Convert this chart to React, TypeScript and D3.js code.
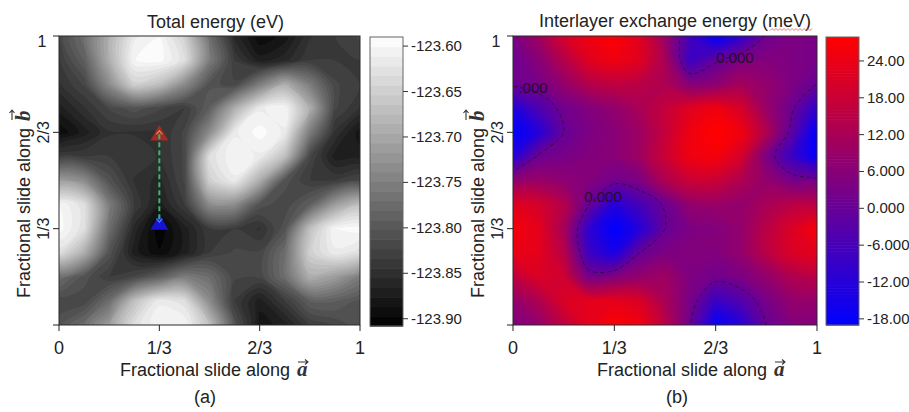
import React from "react";
import * as d3 from "d3";

const FONT = "'Liberation Sans', Arial, Helvetica, sans-serif";
const SERIF = "'Liberation Serif', 'DejaVu Serif', serif";

// grid nodes every 1/12 of a slide, rows listed from b = 1 (top) down to b = 0
// total energy in eV, panel (a)
const energyRows = [
  [-123.821, -123.772, -123.691, -123.614, -123.601, -123.648, -123.772, -123.859, -123.896, -123.883, -123.846, -123.834, -123.821],
  [-123.834, -123.790, -123.691, -123.601, -123.595, -123.629, -123.753, -123.834, -123.871, -123.859, -123.834, -123.834, -123.834],
  [-123.846, -123.821, -123.734, -123.648, -123.669, -123.734, -123.806, -123.821, -123.753, -123.691, -123.753, -123.821, -123.834],
  [-123.871, -123.846, -123.821, -123.806, -123.821, -123.834, -123.790, -123.691, -123.614, -123.601, -123.691, -123.821, -123.846],
  [-123.896, -123.871, -123.846, -123.846, -123.846, -123.821, -123.734, -123.614, -123.595, -123.614, -123.753, -123.846, -123.883],
  [-123.834, -123.834, -123.834, -123.834, -123.846, -123.821, -123.629, -123.601, -123.614, -123.669, -123.821, -123.871, -123.871],
  [-123.713, -123.734, -123.806, -123.846, -123.859, -123.821, -123.648, -123.614, -123.691, -123.806, -123.834, -123.834, -123.821],
  [-123.601, -123.629, -123.753, -123.834, -123.871, -123.834, -123.734, -123.734, -123.806, -123.821, -123.790, -123.713, -123.669],
  [-123.595, -123.629, -123.772, -123.859, -123.905, -123.871, -123.834, -123.834, -123.846, -123.806, -123.669, -123.601, -123.595],
  [-123.629, -123.691, -123.806, -123.871, -123.896, -123.871, -123.834, -123.821, -123.821, -123.772, -123.648, -123.614, -123.629],
  [-123.772, -123.806, -123.834, -123.821, -123.790, -123.753, -123.772, -123.821, -123.821, -123.772, -123.691, -123.713, -123.753],
  [-123.821, -123.821, -123.772, -123.669, -123.614, -123.629, -123.734, -123.834, -123.871, -123.834, -123.790, -123.790, -123.806],
  [-123.806, -123.772, -123.713, -123.629, -123.601, -123.601, -123.669, -123.806, -123.883, -123.871, -123.834, -123.821, -123.806],
];

// interlayer exchange energy in meV, panel (b)
const exchangeRows = [
  [3, 10, 20, 25, 27, 22, 9, -8, -18, -10, 1, 4, 3],
  [1, 6, 14, 22, 25, 22, 12, -8, -1, 4, 5, 4, 3],
  [1, 3, 8, 14, 16, 15, 13, 6, 7, 11, 8, 4, 0],
  [-13, -5, 2, 5, 8, 12, 17, 22, 25, 20, 9, 1, -10],
  [-19, -12, 0, 4, 6, 10, 17, 25, 28, 25, 13, -2, -19],
  [-12, 1, 3, 5, 6, 10, 18, 25, 26, 20, 4, -8, -18],
  [7, 9, 7, 5, 2, 4, 13, 18, 18, 13, 8, 3, 2],
  [22, 20, 14, 0, -12, -6, 1, 8, 9, 8, 12, 15, 15],
  [26, 23, 12, -10, -19, -12, 0, 4, 5, 8, 15, 21, 26],
  [24, 23, 15, -8, -14, 0, 4, 5, 5, 8, 15, 21, 23],
  [16, 21, 19, 3, 5, 8, 10, 4, 2, 4, 8, 13, 15],
  [8, 13, 21, 23, 23, 21, 12, 3, -8, -4, 3, 8, 8],
  [4, 8, 16, 23, 27, 25, 15, 0, -18, -12, 0, 5, 5],
];

const slideTicks = [0, 1 / 3, 2 / 3, 1];
const slideTickLabels = ["0", "1/3", "2/3", "1"];

const energyTicks = [-123.6, -123.65, -123.7, -123.75, -123.8, -123.85, -123.9];
const energyRange = [-123.908, -123.59];

const exchangeTicks = [24, 18, 12, 6, 0, -6, -12, -18];
const exchangeTickLabels = ["24.00", "18.00", "12.00", "6.000", "0.000", "-6.000", "-12.00", "-18.00"];
const exchangeRange = [-19, 27.9];

// sliding path drawn in panel (a): from (1/3, 2/3) to (1/3, 1/3)
const slidePathA = [1 / 3, 1 / 3];
const slidePathB = [2 / 3, 1 / 3];

// labels of the zero contour in panel (b)
const zeroLabels = [
  { a: 0.73, b: 0.924, text: "0.000" },
  { a: 0.296, b: 0.443, text: "0.000" },
  { a: 0.066, b: 0.82, text: ".000" },
];

// contour polygons (grid coords) -> smoothed svg path in pixels
function contourPath(rows, left, top, width, height) {
  const nx = rows[0].length, ny = rows.length;
  const gx = d3.scaleLinear().domain([0.5, nx - 0.5]).range([left, left + width]);
  const gy = d3.scaleLinear().domain([0.5, ny - 0.5]).range([top, top + height]);
  const ring = d3.line().x(p => gx(p[0])).y(p => gy(p[1])).curve(d3.curveCatmullRomClosed.alpha(0.5));
  return mp => mp.coordinates.map(poly => poly.map(r => ring(r.slice(0, -1))).join("")).join("");
}

function Frame({ x0, x1, y0, y1, letter }) {
  const xs = d3.scaleLinear().domain([0, 1]).range([x0, x1]);
  const ys = d3.scaleLinear().domain([0, 1]).range([y1, y0]);
  return (
    <g fontFamily={FONT} fill="#222">
      <rect x={x0} y={y0} width={x1 - x0} height={y1 - y0} fill="none" stroke="#2a2a2a" strokeWidth={1} />
      {slideTicks.map((t, i) => (
        <g key={"x" + i}>
          <line x1={xs(t)} x2={xs(t)} y1={y1} y2={y1 + 6} stroke="#222" />
          <text x={xs(t)} y={y1 + 29} fontSize={18} textAnchor="middle">{slideTickLabels[i]}</text>
        </g>
      ))}
      {slideTicks.map((t, i) => (
        <line key={"y" + i} x1={x0 - 6} x2={x0} y1={ys(t)} y2={ys(t)} stroke="#222" />
      ))}
      {slideTicks.map((t, i) => {
        if (i === 0) return null;
        if (i === 3) return <text key={"yl" + i} x={x0 - 17} y={ys(t) + 11} fontSize={16} textAnchor="middle">{slideTickLabels[i]}</text>;
        return (
          <text key={"yl" + i} transform={`translate(${x0 - 10},${ys(t)}) rotate(-90)`} fontSize={16} textAnchor="middle">
            {slideTickLabels[i]}
          </text>
        );
      })}
      <SlideTitle x={x0 + (letter === "a" ? 61 : 84)} y={y1 + 51} rotate={0} letter="a" />
      <SlideTitle x={x0 - 29} y={y1 - 27} rotate={-90} letter="b" />
    </g>
  );
}

function SlideTitle({ x, y, rotate, letter }) {
  const ay = letter === "b" ? -18 : -14;
  return (
    <g transform={`translate(${x},${y}) rotate(${rotate})`}>
      <text x={0} y={0} fontFamily={FONT} fontSize={18} fill="#222">Fractional slide along</text>
      <text x={177} y={0} fontFamily={SERIF} fontSize={21} fontWeight="bold" fontStyle="italic" fill="#333">{letter}</text>
      <path d={`M${178},${ay} h10 M${185},${ay - 2.5} l3,2.5 l-3,2.5`} fill="none" stroke="#333" strokeWidth={1.1} />
    </g>
  );
}

function ColorBar({ x, width, top, bottom, scale, thresholds, step, fill, ticks, labels }) {
  return (
    <g fontFamily={FONT}>
      {thresholds.map((t, i) => {
        const ya = Math.max(top, scale(t + step));
        const yb = Math.min(bottom, scale(t));
        return <rect key={i} x={x} y={ya} width={width} height={Math.max(0, yb - ya) + 0.6} fill={fill(t)} />;
      })}
      <rect x={x} y={top} width={width} height={bottom - top} fill="none" stroke="#666" strokeWidth={1} />
      {ticks.map((t, i) => (
        <g key={i}>
          <line x1={x + width} x2={x + width + 5} y1={scale(t)} y2={scale(t)} stroke="#333" />
          <text x={x + width + 8} y={scale(t) + 5} fontSize={15} fill="#222">{labels[i]}</text>
        </g>
      ))}
    </g>
  );
}

export default function App() {
  const W = 909, H = 412;
  const A = { x0: 59, x1: 360, y0: 36, y1: 325, cbX: 370, cbW: 33, cbTop: 37, cbBottom: 326 };
  const B = { x0: 513, x1: 817, y0: 36, y1: 325, cbX: 826, cbW: 33, cbTop: 37, cbBottom: 325 };

  // panel (a): banded gray contours
  const eStep = (energyRange[1] - energyRange[0]) / 30;
  const eThresholds = d3.range(30).map(i => energyRange[0] + i * eStep);
  const gray = d3.scaleLinear().domain(energyRange).range(["#000000", "#ffffff"]).clamp(true);
  const eFill = t => gray(t + eStep / 2);
  const ePath = contourPath(energyRows, A.x0, A.y0, A.x1 - A.x0, A.y1 - A.y0);
  const eBands = d3.contours().size([13, 13]).thresholds(eThresholds)(energyRows.flat());
  const eBar = d3.scaleLinear().domain(energyRange).range([A.cbBottom, A.cbTop]);

  // panel (b): smooth blue-red contours
  const xStep = 0.5;
  const xThresholds = d3.range(exchangeRange[0], exchangeRange[1], xStep);
  const blueRed = d3.scaleLinear().domain(exchangeRange).range(["#0000ff", "#ff0000"]).clamp(true);
  const xFill = t => blueRed(t + xStep / 2);
  const xPath = contourPath(exchangeRows, B.x0, B.y0, B.x1 - B.x0, B.y1 - B.y0);
  const xBands = d3.contours().size([13, 13]).thresholds(xThresholds)(exchangeRows.flat());
  const zeroLine = d3.contours().size([13, 13]).thresholds([0])(exchangeRows.flat());
  const xBar = d3.scaleLinear().domain(exchangeRange).range([B.cbBottom, B.cbTop]);

  const ax = d3.scaleLinear().domain([0, 1]).range([A.x0, A.x1]);
  const ay = d3.scaleLinear().domain([0, 1]).range([A.y1, A.y0]);
  const bx = d3.scaleLinear().domain([0, 1]).range([B.x0, B.x1]);
  const by = d3.scaleLinear().domain([0, 1]).range([B.y1, B.y0]);

  const tri = d3.symbol().type(d3.symbolTriangle).size(140)();
  const sx0 = ax(slidePathA[0]), sy0 = ay(slidePathB[0]);
  const sx1 = ax(slidePathA[1]), sy1 = ay(slidePathB[1]);

  const squiggle = d3.range(0, 44, 2).map((d, i) => `${i ? "L" : "M"}${770 + d},${i % 2 ? 28.5 : 30.5}`).join("");

  return (
    <svg width={W} height={H} style={{ position: "absolute", left: 0, top: 0, background: "#fff" }}>
      <defs>
        <clipPath id="clipA"><rect x={A.x0} y={A.y0} width={A.x1 - A.x0} height={A.y1 - A.y0} /></clipPath>
        <clipPath id="clipB"><rect x={B.x0} y={B.y0} width={B.x1 - B.x0} height={B.y1 - B.y0} /></clipPath>
      </defs>

      {/* panel (a) */}
      <g clipPath="url(#clipA)">
        <rect x={A.x0} y={A.y0} width={A.x1 - A.x0} height={A.y1 - A.y0} fill={eFill(eThresholds[0])} />
        {eBands.map((c, i) => <path key={i} d={ePath(c)} fill={eFill(c.value)} />)}
      </g>
      <path d={tri} transform={`translate(${sx0},${sy0 + 3})`} fill="#b42828" opacity={0.88} />
      <path d={tri} transform={`translate(${sx1},${sy1 - 4})`} fill="#1414d2" />
      <line x1={sx0} x2={sx1} y1={sy0 + 2} y2={sy1 - 8} stroke="#3cb371" strokeWidth={2} strokeDasharray="5,3" />
      <path d={`M${sx0 - 3},${sy0 + 2} L${sx0},${sy0 - 1.5} L${sx0 + 3},${sy0 + 2}`} fill="none" stroke="#d0903a" strokeWidth={1.3} />
      <path d={`M${sx1 - 3},${sy1 - 10} L${sx1},${sy1 - 6.5} L${sx1 + 3},${sy1 - 10}`} fill="none" stroke="#4a7cff" strokeWidth={1.3} />
      <Frame x0={A.x0} x1={A.x1} y0={A.y0} y1={A.y1} letter="a" />
      <ColorBar x={A.cbX} width={A.cbW} top={A.cbTop} bottom={A.cbBottom} scale={eBar}
        thresholds={eThresholds} step={eStep} fill={eFill}
        ticks={energyTicks} labels={energyTicks.map(t => t.toFixed(2))} />
      <text x={215.5} y={28} fontFamily={FONT} fontSize={18} textAnchor="middle" fill="#222">Total energy (eV)</text>
      <text x={205} y={403} fontFamily={FONT} fontSize={18} textAnchor="middle" fill="#222">(a)</text>

      {/* panel (b) */}
      <g clipPath="url(#clipB)">
        <rect x={B.x0} y={B.y0} width={B.x1 - B.x0} height={B.y1 - B.y0} fill={xFill(xThresholds[0])} />
        {xBands.map((c, i) => <path key={i} d={xPath(c)} fill={xFill(c.value)} />)}
        {zeroLine.map((c, i) => (
          <path key={"z" + i} d={xPath(c)} fill="none" stroke="#2a0830" strokeOpacity={0.75} strokeWidth={1} strokeDasharray="4,3" />
        ))}
        {zeroLabels.map((l, i) => (
          <text key={"zl" + i} x={bx(l.a)} y={by(l.b) + 5} fontFamily={FONT} fontSize={15}
            textAnchor="middle" fill="#2a0a2a">{l.text}</text>
        ))}
      </g>
      <Frame x0={B.x0} x1={B.x1} y0={B.y0} y1={B.y1} letter="b" />
      <ColorBar x={B.cbX} width={B.cbW} top={B.cbTop} bottom={B.cbBottom} scale={xBar}
        thresholds={xThresholds} step={xStep} fill={xFill}
        ticks={exchangeTicks} labels={exchangeTickLabels} />
      <text x={675} y={27} fontFamily={FONT} fontSize={18} textAnchor="middle" fill="#222">Interlayer exchange energy (meV)</text>
      <path d={squiggle} fill="none" stroke="#e05a5a" strokeWidth={0.8} />
      <text x={677} y={403} fontFamily={FONT} fontSize={18} textAnchor="middle" fill="#222">(b)</text>
    </svg>
  );
}
